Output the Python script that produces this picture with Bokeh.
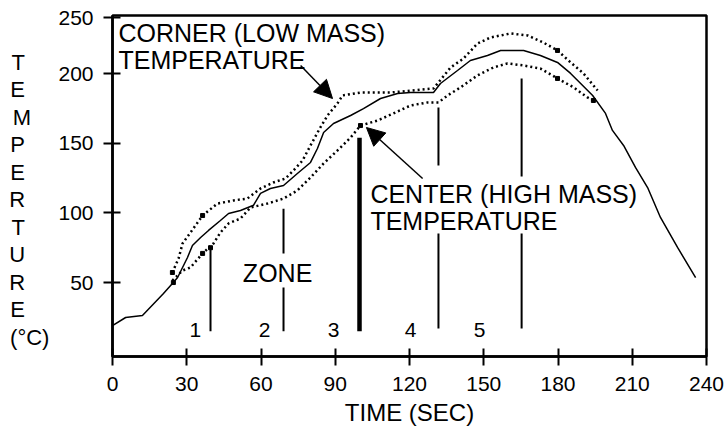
from bokeh.plotting import figure
from bokeh.models import Range1d, FixedTicker, Arrow, NormalHead
from bokeh.core.properties import value
from bokeh.embed import file_html
from bokeh.resources import INLINE

# ---- data (time in s, temperature in deg C) ----
mid_t = [0, 5.3, 12.1, 20.6, 24.2, 26.3, 30.3, 32.3, 35.6, 38.8, 43.6, 46.9, 51.7, 57.0,
         59.8, 63.8, 69.1, 74.7, 80.0, 82.8, 85.3, 89.3, 96.2, 101.4, 108.3, 115.2,
         120.4, 129.7, 132.5, 139.4, 144.6, 151.5, 156.8, 166.1, 172.9, 179.8, 185.1,
         194.0, 199.2, 202.0, 206.5, 211.3, 216.2, 221.4, 228.3, 235.6]
mid_v = [19, 24.9, 26.3, 42.1, 49.3, 53.6, 68.0, 76.6, 82.3, 87.4, 94.5, 99.6, 101.7, 105.5,
         114.0, 117.5, 119.7, 128.3, 136.2, 146.2, 157.7, 164.2, 169.9, 174.9, 182.1, 185.7,
         186.4, 186.4, 192.9, 202.2, 209.4, 213.0, 216.6, 216.6, 213.0, 208.0, 200.1,
         184.3, 171.4, 159.2, 148.4, 132.6, 118.2, 96.7, 75.2, 53.6]

corner_t = [24.2, 26.7, 28.3, 31.5, 36.4, 42.4, 48.9, 54.5, 59.8, 65.0, 69.9, 73.1, 76.8,
            80.0, 84.0, 86.9, 90.9, 92.9, 100.2, 112.3, 129.7, 136.6, 141.8, 147.5, 152.7,
            160.8, 167.7, 174.1, 179.8, 185.1, 190.3, 196.0]
corner_v = [57.2, 67.3, 78.0, 85.9, 98.1, 106.7, 108.9, 110.3, 117.5, 121.8, 124.7, 130.4,
            137.6, 148.4, 161.4, 170.0, 178.6, 184.3, 186.4, 186.4, 189.3, 204.4, 210.8,
            221.6, 225.9, 228.8, 227.4, 222.3, 216.6, 208.0, 200.1, 187.9]

center_t = [24.2, 28.3, 31.5, 36.4, 40.8, 43.6, 46.9, 51.7, 55.8, 62.6, 69.1, 74.7, 80.0,
            85.3, 90.9, 96.2, 100.2, 107.1, 113.5, 120.4, 127.3, 131.7, 135.4, 140.6,
            147.5, 153.9, 159.6, 166.1, 172.9, 179.8, 186.3, 191.9, 194.3]
center_v = [51.5, 58.6, 60.8, 70.9, 78.0, 85.9, 92.4, 96.0, 103.9, 106.7, 110.3, 116.1,
            125.4, 135.5, 144.8, 154.1, 162.7, 166.3, 171.4, 177.1, 179.3, 179.3, 184.3,
            190.1, 198.7, 204.4, 207.3, 205.8, 203.6, 196.5, 190.1, 182.9, 180.7]

# measured sample points drawn as heavier dots
pts_t = [24.2, 24.6, 36.4, 36.4, 39.6, 100.2, 179.8, 179.8, 194.3]
pts_v = [57.2, 50.0, 98.1, 70.9, 75.0, 162.7, 216.6, 196.5, 180.7]

# zone boundary markers (vertical strokes, broken where text crosses them)
zone_seg_t = [39.6, 69.1, 69.1, 131.7, 131.7, 165.3, 165.3]
zone_seg_top = [75.0, 103.0, 46.4, 175.7, 85.2, 196.5, 85.2]
zone_seg_bot = [15.0, 70.9, 15.0, 134.0, 17.0, 126.1, 17.0]
zone3_t = [99.8]
zone3_top = [154.0]
zone3_bot = [15.0]

zone_labels = ["1", "2", "3", "4", "5"]
zone_label_t = [33.5, 61.4, 89.3, 120.4, 148.3]
zone_label_v = [15.6, 15.6, 15.6, 15.6, 15.6]

note_text = ["CORNER (LOW MASS)", "TEMPERATURE", "CENTER (HIGH MASS)", "TEMPERATURE"]
note_t = [2.4, 2.4, 104.2, 104.2]
note_v = [228.8, 210.1, 113.2, 94.5]

zone_word = ["ZONE"]
zone_word_t = [66.7]
zone_word_v = [57.2]

arrow_start_t = [76.0, 125.3]
arrow_start_v = [205.8, 124.7]
arrow_end_t = [88.9, 102.6]
arrow_end_v = [182.1, 161.3]

x_ticks = [0, 30, 60, 90, 120, 150, 180, 210, 240]
y_ticks = [50, 100, 150, 200, 240]
y_tick_labels = {240: "250"}

# stacked y-axis title, one glyph per row (as printed on the original);
# no-break spaces keep the single letters flush left with "(°C)"
NB = "\u00a0"
y_label_rows = list("TEMPERTURE") + ["(°C)"]
y_label = "\n" + "\n".join(
    (r + NB * (3 if r == "M" else 4)) if len(r) == 1 else r for r in y_label_rows)
x_label = "TIME (SEC)"

FONT = "Liberation Sans"

p = figure(width=728, height=434, x_range=Range1d(0, 240), y_range=Range1d(-3.1, 241.7),
           output_backend="svg", toolbar_location=None,
           min_border_left=112, min_border_right=22, min_border_top=15, min_border_bottom=78)
p.grid.visible = False
p.outline_line_color = "black"
p.outline_line_width = 2.5
p.background_fill_color = "white"
p.border_fill_color = "white"

for ax in (p.xaxis[0], p.yaxis[0]):
    ax.axis_line_width = 2.5
    ax.major_tick_line_width = 2
    ax.major_tick_in = 8
    ax.major_tick_out = 9
    ax.minor_tick_line_color = None
    ax.major_label_text_font = FONT
    ax.major_label_text_font_size = "21px"
    ax.major_label_text_color = "black"
    ax.axis_label_text_font = FONT
    ax.axis_label_text_font_style = "normal"
    ax.axis_label_text_color = "black"

p.xaxis.ticker = FixedTicker(ticks=x_ticks)
p.xaxis.major_label_standoff = 11
p.xaxis.axis_label = x_label
p.xaxis.axis_label_text_font_size = "24px"
p.xaxis.axis_label_standoff = 5

p.yaxis.ticker = FixedTicker(ticks=y_ticks)
p.yaxis.major_label_overrides = y_tick_labels
p.yaxis.major_label_standoff = 10
p.yaxis.axis_label = y_label
p.yaxis.axis_label_orientation = "horizontal"
p.yaxis.axis_label_text_font_size = "22px"
p.yaxis.axis_label_text_line_height = 1.10
p.yaxis.axis_label_standoff = 6

# curves
p.line(mid_t, mid_v, line_color="black", line_width=1.5)
p.line(corner_t, corner_v, line_color="black", line_width=2.5, line_dash="2 3")
p.line(center_t, center_v, line_color="black", line_width=2.5, line_dash="2 3")
p.scatter(pts_t, pts_v, marker="square", size=4, color="black")

# zone strokes
p.segment(x0=zone_seg_t, y0=zone_seg_bot, x1=zone_seg_t, y1=zone_seg_top,
          line_color="black", line_width=2)
p.segment(x0=zone3_t, y0=zone3_bot, x1=zone3_t, y1=zone3_top,
          line_color="black", line_width=4.5)

# texts
p.text(x=zone_label_t, y=zone_label_v, text=zone_labels, text_font=value(FONT),
       text_font_size="21px", text_align="center", text_baseline="middle", text_color="black")
p.text(x=note_t, y=note_v, text=note_text, text_font=value(FONT),
       text_font_size="25px", text_align="left", text_baseline="middle", text_color="black")
p.text(x=zone_word_t, y=zone_word_v, text=zone_word, text_font=value(FONT),
       text_font_size="25px", text_align="center", text_baseline="middle", text_color="black")

for xs, ys, xe, ye in zip(arrow_start_t, arrow_start_v, arrow_end_t, arrow_end_v):
    p.add_layout(Arrow(end=NormalHead(size=18, fill_color="black", line_color="black"),
                       x_start=xs, y_start=ys, x_end=xe, y_end=ye,
                       line_color="black", line_width=1.5))

open("out.html", "w").write(file_html(p, INLINE))
